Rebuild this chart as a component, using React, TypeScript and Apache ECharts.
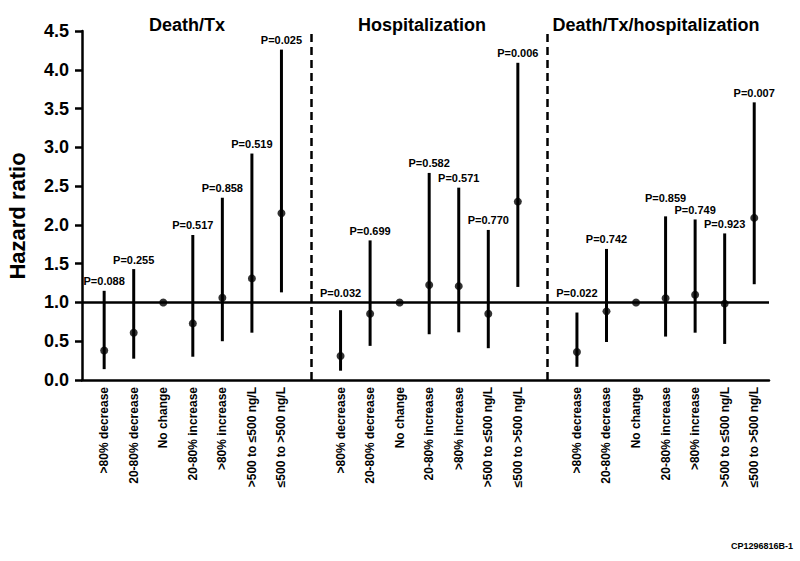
import React, { useEffect, useRef } from "react";
import * as echarts from "echarts";

const groupTitles = ["Death/Tx", "Hospitalization", "Death/Tx/hospitalization"];
const categories = [
  ">80% decrease",
  "20-80% decrease",
  "No change",
  "20-80% increase",
  ">80% increase",
  ">500 to ≤500 ng/L",
  "≤500 to >500 ng/L",
];
const yTicks = [0, 0.5, 1, 1.5, 2, 2.5, 3, 3.5, 4, 4.5];
const referenceHR = 1.0;

// Death/Tx
const deathTxHR = [0.38, 0.61, 1.0, 0.73, 1.06, 1.31, 2.15];
const deathTxLower = [0.14, 0.275, null, 0.3, 0.5, 0.61, 1.13];
const deathTxUpper = [1.15, 1.43, null, 1.87, 2.35, 2.92, 4.26];
const deathTxP = ["0.088", "0.255", null, "0.517", "0.858", "0.519", "0.025"];

// Hospitalization
const hospHR = [0.31, 0.855, 1.0, 1.225, 1.21, 0.855, 2.3];
const hospLower = [0.12, 0.44, null, 0.59, 0.615, 0.41, 1.2];
const hospUpper = [0.9, 1.8, null, 2.67, 2.48, 1.935, 4.09];
const hospP = ["0.032", "0.699", null, "0.582", "0.571", "0.770", "0.006"];

// Death/Tx/hospitalization
const combHR = [0.36, 0.885, 1.0, 1.055, 1.1, 0.985, 2.09];
const combLower = [0.17, 0.49, null, 0.56, 0.61, 0.465, 1.235];
const combUpper = [0.87, 1.69, null, 2.11, 2.07, 1.89, 3.58];
const combP = ["0.022", "0.742", null, "0.859", "0.749", "0.923", "0.007"];

const groupsData = [
  { hr: deathTxHR, lo: deathTxLower, hi: deathTxUpper, p: deathTxP },
  { hr: hospHR, lo: hospLower, hi: hospUpper, p: hospP },
  { hr: combHR, lo: combLower, hi: combUpper, p: combP },
];

const FONT = "'Liberation Sans', Arial, sans-serif";

export default function App() {
  const ref = useRef<HTMLDivElement>(null);

  useEffect(() => {
    if (!ref.current) return;
    const chart = echarts.init(ref.current, undefined, { renderer: "svg" });

    const slotSize = categories.length + 1;
    const slotLabels: Record<number, string> = {};
    const slotValues: number[] = [];
    const points: number[][] = [];
    const ciRows: { x: number; lo: number; hi: number; p: string; anchor: number }[] = [];
    groupsData.forEach((g, gi) => {
      categories.forEach((c, ci) => {
        const x = gi * slotSize + ci;
        slotLabels[x] = c;
        slotValues.push(x);
        points.push([x, g.hr[ci]]);
        if (g.lo[ci] != null && g.hi[ci] != null) {
          const hi = g.hi[ci] as number;
          ciRows.push({
            x,
            lo: g.lo[ci] as number,
            hi,
            p: g.p[ci] as string,
            anchor: Math.max(hi, referenceHR),
          });
        }
      });
    });
    // simple label collision avoidance: raise a label when its right neighbour sits at nearly the same height
    const minSep = 0.16;
    for (let i = ciRows.length - 2; i >= 0; i--) {
      const a = ciRows[i];
      const b = ciRows[i + 1];
      if (b.x - a.x === 1 && Math.abs(a.anchor - b.anchor) < minSep) {
        a.anchor = b.anchor + minSep;
      }
    }
    const dividers = [1, 2].map((k) => k * slotSize - 1);

    const option: any = {
      animation: false,
      textStyle: { fontFamily: FONT, color: "#000" },
      grid: { left: 82, right: 31, top: 31, bottom: 181 },
      xAxis: {
        type: "value",
        min: -0.75,
        max: groupsData.length * slotSize - 1.5,
        splitLine: { show: false },
        axisLine: { onZero: false, lineStyle: { color: "#000", width: 2.5 } },
        axisTick: { show: false },
        axisLabel: {
          customValues: slotValues,
          rotate: 90,
          margin: 7,
          fontSize: 12,
          fontWeight: "bold",
          color: "#000",
          fontFamily: FONT,
          formatter: (v: number) => slotLabels[Math.round(v)] ?? "",
        },
      },
      yAxis: {
        type: "value",
        min: 0,
        max: 4.5,
        interval: 0.5,
        splitLine: { show: false },
        axisLine: { show: true, onZero: false, lineStyle: { color: "#000", width: 2.5 } },
        axisTick: { show: true, length: 7, inside: false, lineStyle: { color: "#000", width: 2.5 } },
        axisLabel: {
          margin: 13,
          fontSize: 18,
          fontWeight: "bold",
          color: "#000",
          fontFamily: FONT,
          customValues: yTicks,
          formatter: (v: number) => v.toFixed(1),
        },
      },
      series: [
        {
          type: "custom",
          z: 3,
          data: ciRows.map((r) => [r.x, r.lo, r.hi]),
          renderItem: (params: any, api: any) => {
            const row = ciRows[params.dataIndex];
            const top = api.coord([row.x, row.hi]);
            const bot = api.coord([row.x, row.lo]);
            const anchor = api.coord([row.x, row.anchor]);
            return {
              type: "group",
              children: [
                {
                  type: "line",
                  shape: { x1: top[0], y1: top[1], x2: bot[0], y2: bot[1] },
                  style: { stroke: "#000", lineWidth: 3 },
                },
                {
                  type: "text",
                  style: {
                    text: "P=" + row.p,
                    x: anchor[0],
                    y: anchor[1] - 4,
                    align: "center",
                    verticalAlign: "bottom",
                    fontSize: 11,
                    fontWeight: "bold",
                    fontFamily: FONT,
                    fill: "#000",
                  },
                },
              ],
            };
          },
        },
        {
          type: "scatter",
          z: 4,
          symbol: "circle",
          symbolSize: 8,
          itemStyle: { color: "#000" },
          data: points,
          markLine: {
            silent: true,
            symbol: ["none", "none"],
            label: { show: false },
            data: [
              { yAxis: referenceHR, lineStyle: { color: "#000", width: 2.5, type: "solid" } },
              ...dividers.map((d) => ({
                xAxis: d,
                lineStyle: { color: "#000", width: 2.5, type: [8, 5] },
              })),
            ],
          },
        },
      ],
      graphic: [
        ...groupTitles.map((t, i) => ({
          type: "text",
          x: [187, 422, 656][i],
          y: 25,
          style: {
            text: t,
            align: "center",
            verticalAlign: "middle",
            fontSize: 18,
            fontWeight: "bold",
            fontFamily: FONT,
            fill: "#000",
          },
        })),
        {
          type: "text",
          x: 17,
          y: 216,
          rotation: Math.PI / 2,
          style: {
            text: "Hazard ratio",
            align: "center",
            verticalAlign: "middle",
            fontSize: 22,
            fontWeight: "bold",
            fontFamily: FONT,
            fill: "#000",
          },
        },
        {
          type: "text",
          x: 793,
          y: 546,
          style: {
            text: "CP1296816B-1",
            align: "right",
            verticalAlign: "middle",
            fontSize: 9,
            fontWeight: "bold",
            fontFamily: FONT,
            fill: "#000",
          },
        },
      ],
    };

    chart.setOption(option);
    return () => chart.dispose();
  }, []);

  return (
    <div
      ref={ref}
      style={{ position: "absolute", left: 0, top: 0, width: 800, height: 561, background: "#fff" }}
    />
  );
}
